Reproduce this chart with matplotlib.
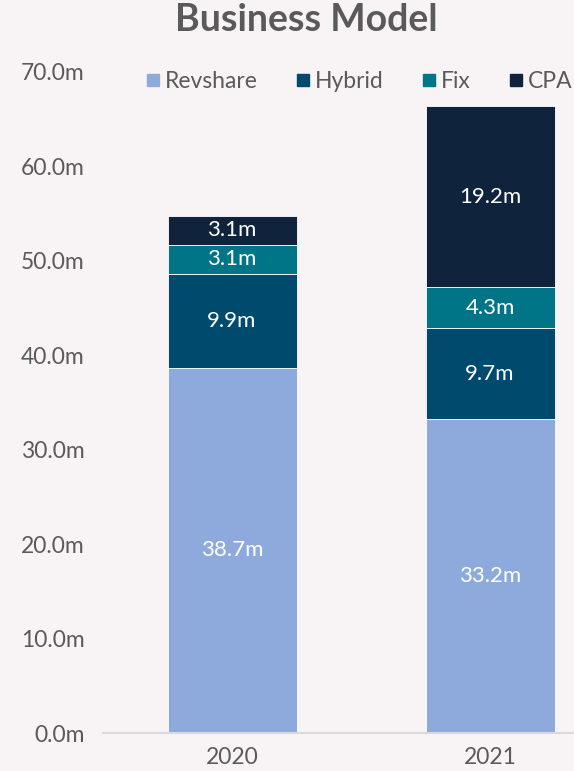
import matplotlib.pyplot as plt
import numpy as np
from matplotlib.lines import Line2D

years = ["2020", "2021"]
series = ["Revshare", "Hybrid", "Fix", "CPA"]
revshare = [38.7, 33.2]
hybrid = [9.9, 9.7]
fix = [3.1, 4.3]
cpa = [3.1, 19.2]
colors = ["#8eaadc", "#004a6e", "#007587", "#0f233c"]

bg = "#f8f4f5"
grey = "#5a5a5a"

plt.rcParams['font.family'] = ['Lato', 'DejaVu Sans']

fig = plt.figure(figsize=(5.74, 7.71), dpi=100, facecolor=bg)
ax = fig.add_axes([103 / 574, (771 - 733) / 771, (619 - 103) / 574, (733 - 72) / 771])
ax.set_facecolor(bg)

x = np.arange(len(years))
bottom = np.zeros(len(years))
for name, vals, col in zip(series, [revshare, hybrid, fix, cpa], colors):
    vals = np.array(vals)
    ax.bar(x, vals, width=0.5, bottom=bottom, color=col, edgecolor="white",
           linewidth=0.6, label=name)
    for xi, b, v in zip(x, bottom, vals):
        ax.text(xi, b + v / 2, f"{v:.1f}m", ha="center", va="center",
                color="white", fontsize=16)
    bottom += vals

ax.set_xlim(-0.5, 1.5)
ax.set_ylim(0, 70)
ax.set_yticks(np.arange(0, 71, 10))
ax.set_yticklabels([f"{v:.1f}m" for v in np.arange(0, 71, 10)])
ax.set_xticks(x)
ax.set_xticklabels(years)
ax.tick_params(axis="both", length=0, labelsize=16.5, labelcolor=grey)
ax.tick_params(axis="y", pad=13)
ax.tick_params(axis="x", pad=10)
for s in ["top", "right", "left"]:
    ax.spines[s].set_visible(False)
ax.spines["bottom"].set_color("#d9d9d9")
ax.spines["bottom"].set_linewidth(1.5)

handles = [Line2D([], [], marker="s", linestyle="none", markersize=9,
                  markerfacecolor=c, markeredgecolor=c) for c in colors]
fig.legend(handles, series, ncol=4, loc="center", bbox_to_anchor=(357 / 574, 1 - 82 / 771),
           frameon=False, fontsize=16.5, labelcolor=grey, handletextpad=0.0,
           columnspacing=1.5, handlelength=1.0)

fig.text(306 / 574, 1 - 20 / 771, "Business Model", ha="center", va="center",
         fontsize=27, fontweight="bold", color=grey)

fig.savefig("out.png", dpi=100, facecolor=bg)
